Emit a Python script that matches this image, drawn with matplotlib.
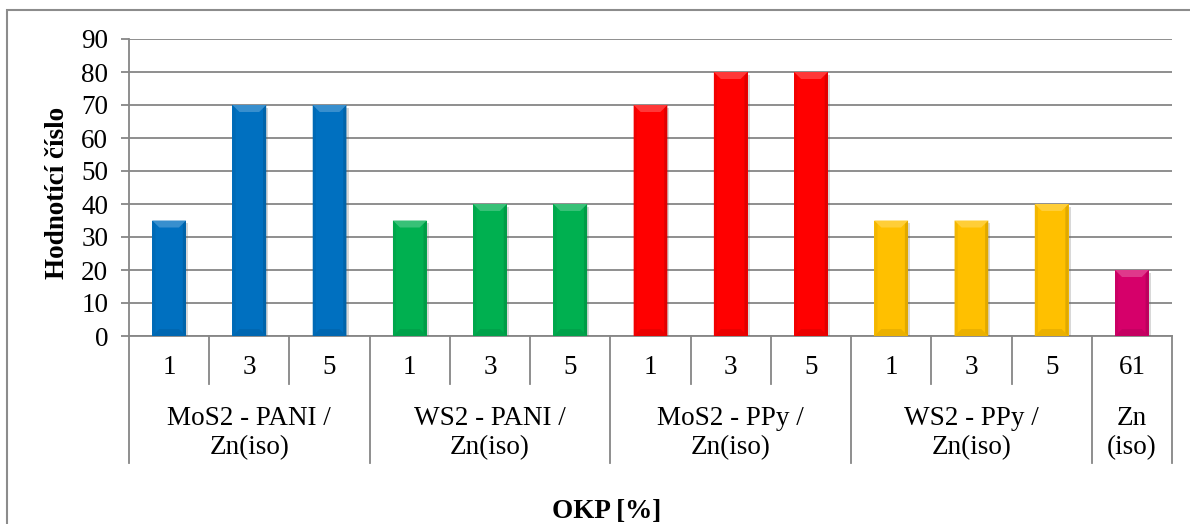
import matplotlib
matplotlib.use("Agg")
import matplotlib.pyplot as plt
import matplotlib.patheffects as pe
from matplotlib.patches import Polygon, Rectangle
from matplotlib.colors import to_rgb
import matplotlib.transforms as mtransforms

plt.rcParams['font.family'] = ['Liberation Serif', 'DejaVu Serif']

# --- data ---
okp_labels = ["1", "3", "5", "1", "3", "5", "1", "3", "5", "1", "3", "5", "61"]
values = [35, 70, 70, 35, 40, 40, 70, 80, 80, 35, 35, 40, 20]
groups = ["MoS2 - PANI /\nZn(iso)", "WS2 - PANI /\nZn(iso)", "MoS2 - PPy /\nZn(iso)",
          "WS2 - PPy /\nZn(iso)", "Zn\n(iso)"]
group_sizes = [3, 3, 3, 3, 1]
group_colors = ["#0070C0", "#00B050", "#FF0000", "#FFC000", "#D6006A"]

y_ticks = list(range(0, 100, 10))
y_label = "Hodnotící číslo"
x_label = "OKP [%]"

FS = 19.5
W, H = 1190, 524
fig = plt.figure(figsize=(W / 100, H / 100), dpi=100)
ax = fig.add_axes([129 / W, (H - 336) / H, (1172 - 129) / W, (336 - 39) / H])

bar_colors = []
for c, n in zip(group_colors, group_sizes):
    bar_colors += [c] * n

x = list(range(len(values)))
bw = 0.42
grid_c = "#868686"


def shade(color, f):
    r, g, b = to_rgb(color)
    if f >= 0:
        return (r + (1 - r) * f, g + (1 - g) * f, b + (1 - b) * f)
    return (r * (1 + f), g * (1 + f), b * (1 + f))


bars = ax.bar(x, values, width=bw, color=bar_colors, zorder=3, linewidth=0,
              path_effects=[pe.SimplePatchShadow(offset=(1.5, -2), shadow_rgbFace="#666666", alpha=0.25),
                            pe.Normal()])

# bevel edges of each bar
dx = 7 / 80.2
dy = 7 * 90 / 297
for xi, v, c in zip(x, values, bar_colors):
    x0, x1 = xi - bw / 2, xi + bw / 2
    top = Polygon([(x0, v), (x1, v), (x1 - dx, v - dy), (x0 + dx, v - dy)],
                  closed=True, facecolor=shade(c, 0.22), edgecolor="none", zorder=4)
    bot = Polygon([(x0, 0), (x1, 0), (x1 - dx, dy), (x0 + dx, dy)],
                  closed=True, facecolor=shade(c, -0.08), edgecolor="none", zorder=4)
    left = Polygon([(x0, 0), (x0 + dx * 0.45, dy * 0.45), (x0 + dx * 0.45, v - dy * 0.45), (x0, v)],
                   closed=True, facecolor=shade(c, -0.05), edgecolor="none", zorder=4)
    right = Polygon([(x1, 0), (x1 - dx * 0.45, dy * 0.45), (x1 - dx * 0.45, v - dy * 0.45), (x1, v)],
                    closed=True, facecolor=shade(c, -0.12), edgecolor="none", zorder=4)
    for p in (bot, left, right, top):
        ax.add_patch(p)

ax.set_xlim(-0.5, len(values) - 0.5)
ax.set_ylim(0, 90)
ax.set_yticks(y_ticks)
ax.set_yticklabels([str(t) for t in y_ticks], fontsize=FS)
ax.yaxis.grid(True, color=grid_c, linewidth=1.3, zorder=0)
ax.set_axisbelow(True)
ax.tick_params(axis="y", length=6, width=1.3, color=grid_c, pad=9)
ax.set_xticks([])

for s in ("top", "right"):
    ax.spines[s].set_visible(False)
for s in ("left", "bottom"):
    ax.spines[s].set_color(grid_c)
    ax.spines[s].set_linewidth(1.3)

# multi-level category axis
trans = mtransforms.blended_transform_factory(ax.transData, ax.transAxes)
ax_h = 336 - 39
short = -48 / ax_h
long_ = -127 / ax_h
bounds = []
pos = 0
for n in group_sizes:
    for k in range(n):
        bounds.append((pos + k - 0.5, k == 0))
    pos += n
bounds.append((pos - 0.5, True))
for b, is_group in bounds:
    ax.plot([b, b], [0, long_ if is_group else short], transform=trans, color=grid_c,
            linewidth=1.3, clip_on=False, zorder=1)

for xi, lab in zip(x, okp_labels):
    ax.text(xi, -32 / ax_h, lab, transform=trans, ha="center", va="center", fontsize=FS)

pos = 0
for g, n in zip(groups, group_sizes):
    center = pos + (n - 1) / 2
    ax.text(center, -97 / ax_h, g, transform=trans, ha="center", va="center",
            fontsize=FS, linespacing=1.2)
    pos += n

fig.text(57 / W, (H - 193) / H, y_label, rotation=90, ha="center", va="center",
         fontsize=FS, fontweight="bold")
fig.text(607 / W, (H - 511) / H, x_label, ha="center", va="center",
         fontsize=FS, fontweight="bold")

# chart area frame
fig.patches.append(Rectangle((7 / W, -0.1), 1.2, (H - 10) / H + 0.1, transform=fig.transFigure,
                             fill=False, edgecolor="#8c8c8c", linewidth=1.5, zorder=0))

fig.savefig("out.png", dpi=100)
